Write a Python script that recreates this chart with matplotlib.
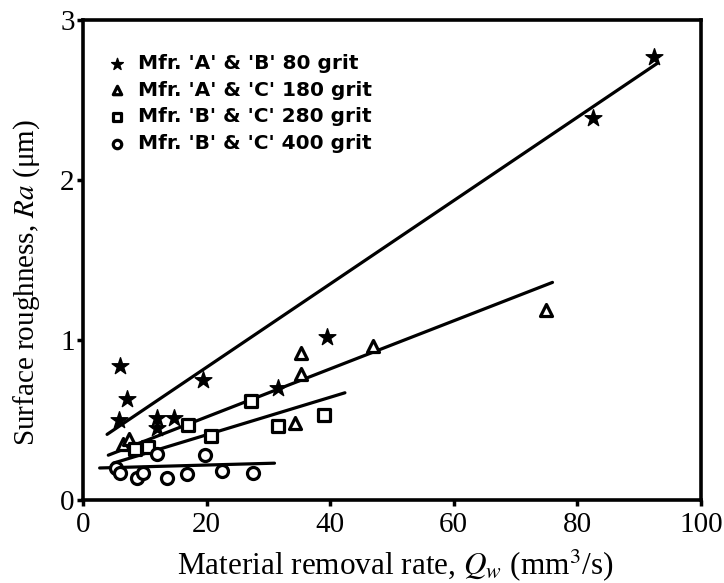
import numpy as np
import matplotlib.pyplot as plt

plt.rcParams['font.family'] = ['Liberation Serif', 'DejaVu Serif']
plt.rcParams['mathtext.fontset'] = 'stix'

# measured surface roughness for each grit
x80 = [6.0, 7.2, 5.8, 12.0, 12.0, 14.7, 19.5, 31.5, 39.5, 82.5, 92.5]
y80 = [0.84, 0.63, 0.50, 0.51, 0.45, 0.51, 0.75, 0.70, 1.02, 2.39, 2.77]
x180 = [6.5, 7.5, 34.3, 35.3, 35.3, 47.0, 75.0]
y180 = [0.35, 0.38, 0.48, 0.79, 0.92, 0.96, 1.19]
x280 = [8.5, 10.5, 17.0, 20.7, 27.2, 31.5, 39.0]
y280 = [0.32, 0.33, 0.47, 0.40, 0.62, 0.46, 0.53]
x400 = [5.3, 6.0, 8.7, 9.7, 12.0, 13.6, 16.8, 19.8, 22.5, 27.5]
y400 = [0.20, 0.17, 0.14, 0.17, 0.29, 0.14, 0.16, 0.28, 0.18, 0.17]

# fitted trend lines (end points)
fit80 = ([3.9, 93.0], [0.41, 2.73])
fit180 = ([4.1, 76.0], [0.28, 1.36])
fit280 = ([4.9, 42.4], [0.23, 0.67])
fit400 = ([2.7, 31.0], [0.20, 0.23])

labels = ["Mfr. 'A' & 'B' 80 grit", "Mfr. 'A' & 'C' 180 grit",
          "Mfr. 'B' & 'C' 280 grit", "Mfr. 'B' & 'C' 400 grit"]

fig = plt.figure(figsize=(7.24, 5.83), dpi=100)
ax = fig.add_axes([0.1146, 0.1424, 0.8533, 0.8233])

for fx, fy in [fit80, fit180, fit280, fit400]:
    ax.plot(fx, fy, color='black', lw=2.3, solid_capstyle='round')

ax.scatter(x80, y80, marker='*', s=160, color='black', label=labels[0], zorder=3)
ax.scatter(x180, y180, marker='^', s=75, facecolor='white', edgecolor='black',
           linewidths=2.3, label=labels[1], zorder=3)
ax.scatter(x280, y280, marker='s', s=75, facecolor='white', edgecolor='black',
           linewidths=2.3, label=labels[2], zorder=3)
ax.scatter(x400, y400, marker='o', s=75, facecolor='white', edgecolor='black',
           linewidths=2.3, label=labels[3], zorder=3)

leg = ax.legend(loc='upper left', bbox_to_anchor=(0.038, 0.929), frameon=False,
                handletextpad=0.55, labelspacing=0.38, borderaxespad=0,
                borderpad=0, markerscale=0.7, handlelength=1.0,
                prop={'family': 'DejaVu Sans', 'weight': 'bold', 'size': 14.5})

ax.set_xlim(0, 100)
ax.set_ylim(0, 3)
ax.set_xticks([0, 20, 40, 60, 80, 100])
ax.set_yticks([0, 1, 2, 3])
ax.tick_params(direction='out', length=4, width=2.5, labelsize=21)
ax.tick_params(axis='x', pad=5)
ax.tick_params(axis='y', pad=2)
for sp in ax.spines.values():
    sp.set_linewidth(2.6)

ax.set_xlabel('Material removal rate, $Q_w$ (mm$^3$/s)', fontsize=22.5)
ax.set_ylabel('Surface roughness, $Ra$ (μm)', fontsize=21)
ax.xaxis.set_label_coords(0.505, -0.098)
ax.yaxis.set_label_coords(-0.067, 0.454)

fig.savefig('out.png', dpi=100)
